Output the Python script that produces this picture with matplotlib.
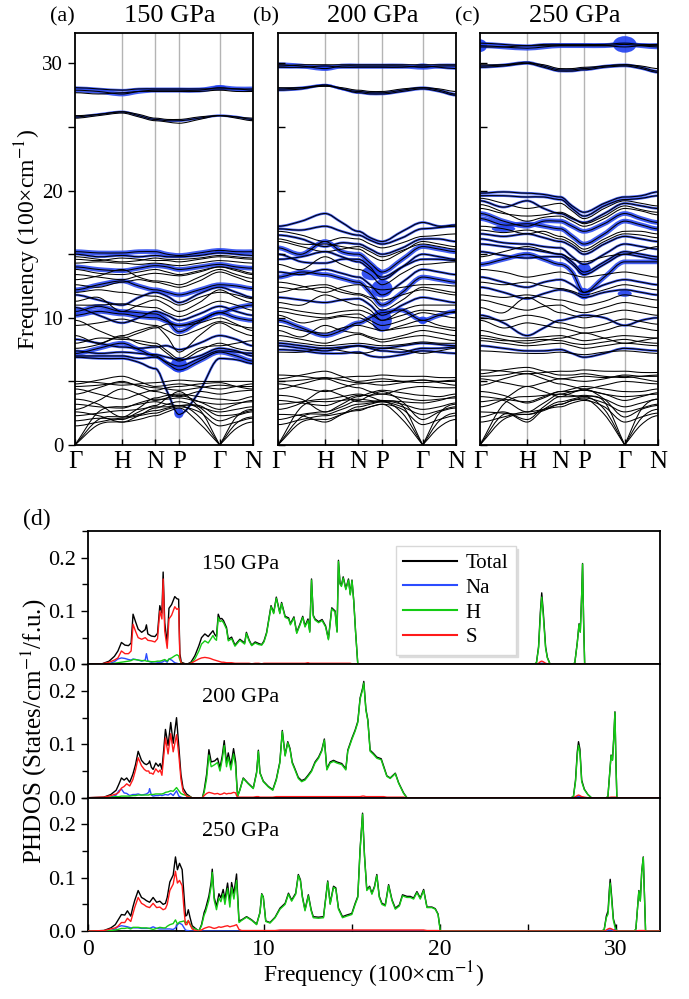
import numpy as np
import matplotlib
matplotlib.use("Agg")
import matplotlib.pyplot as plt
from matplotlib.path import Path
from matplotlib.patches import PathPatch, Ellipse
from matplotlib.ticker import MultipleLocator, FormatStrFormatter

plt.rcParams['font.family'] = ['Liberation Serif', 'DejaVu Serif']
plt.rcParams['mathtext.fontset'] = 'stix'

# ---------------- phonon dispersions ----------------
# high-symmetry path (bcc): Gamma-H-N-P-Gamma-N, cumulative k distance
K_NODES = [0.0, 1.0, 1.707, 2.207, 3.073, 3.780]
K_LABELS = ['Γ', 'H', 'N', 'P', 'Γ', 'N']
# each band: values at Γ, mid, H, mid, N, mid, P, mid, Γ, mid, N  (100 cm^-1)
BANDS_150 = [
    [0.0, 1.6, 1.8, 2.0, 2.3, 2.6, 2.9, 1.7, 0.0, 1.3, 1.8],
    [0.0, 2.0, 2.2, 2.4, 2.7, 2.9, 3.1, 2.2, 0.0, 1.7, 2.2],
    [0.0, 2.6, 3.0, 3.2, 3.4, 3.2, 3.1, 2.8, 0.0, 2.2, 2.8],
    [2.3, 2.5, 2.7, 2.8, 3.0, 3.0, 3.1, 3.1, 2.3, 2.4, 2.7],
    [2.6, 2.3, 1.8, 2.3, 2.9, 3.2, 3.4, 3.0, 2.6, 2.8, 3.0],
    [2.8, 3.5, 4.4, 4.0, 3.5, 3.7, 3.9, 3.4, 2.8, 3.2, 3.5],
    [3.6, 3.2, 2.2, 2.9, 3.7, 3.9, 4.0, 3.8, 3.6, 3.5, 3.8],
    [4.0, 4.5, 5.0, 4.6, 4.2, 4.0, 3.8, 4.2, 4.0, 4.2, 4.3],
    [4.4, 4.0, 3.6, 4.0, 4.3, 4.5, 4.6, 4.8, 4.9, 4.6, 4.4],
    [4.8, 5.1, 5.4, 5.0, 4.6, 4.7, 4.8, 4.6, 4.4, 4.6, 4.8],
    [5.0, 4.9, 4.7, 4.8, 4.9, 5.0, 5.1, 5.0, 5.0, 5.0, 5.0],
    [1.9, 2.1, 2.0, 2.6, 3.1, 3.7, 4.2, 3.0, 1.9, 2.3, 2.6],
    [1.5, 1.8, 2.1, 2.3, 2.5, 2.8, 3.0, 2.6, 1.5, 1.8, 2.1],
    [3.2, 3.0, 2.9, 3.3, 3.6, 3.6, 3.7, 3.4, 3.2, 3.3, 3.4],
    [4.6, 4.7, 4.9, 4.7, 4.5, 4.4, 4.3, 4.5, 4.7, 4.6, 4.6],
    [6.9, 6.8, 6.8, 6.5, 6.0, 4.2, 2.4, 4.2, 6.8, 6.7, 6.4],
    [7.2, 7.6, 8.0, 7.5, 7.0, 6.4, 5.9, 6.6, 7.3, 7.0, 6.6],
    [7.0, 7.0, 7.0, 6.8, 6.9, 6.5, 6.2, 6.8, 7.4, 7.3, 7.2],
    [7.4, 7.2, 7.3, 7.2, 7.1, 6.9, 6.7, 7.0, 7.6, 7.4, 7.0],
    [7.6, 7.9, 8.5, 8.0, 7.8, 7.2, 6.6, 7.4, 8.0, 7.6, 7.4],
    [8.0, 8.4, 8.3, 8.2, 8.0, 7.4, 6.8, 7.6, 7.8, 8.0, 8.2],
    [8.3, 8.0, 7.7, 7.6, 7.7, 7.8, 7.5, 8.0, 8.6, 8.3, 7.8],
    [8.6, 8.0, 8.6, 9.0, 9.3, 8.5, 7.3, 8.6, 9.6, 9.0, 8.6],
    [9.4, 9.6, 9.9, 9.6, 9.4, 9.0, 8.6, 9.1, 9.7, 9.4, 9.2],
    [9.8, 9.0, 8.4, 8.8, 9.2, 9.5, 9.4, 9.6, 10.0, 9.5, 9.0],
    [10.2, 10.5, 10.3, 10.1, 10.0, 9.7, 9.4, 9.8, 10.4, 10.8, 11.0],
    [10.5, 10.9, 10.5, 10.4, 10.3, 9.8, 8.9, 9.7, 10.4, 10.0, 9.8],
    [10.8, 10.2, 9.6, 10.0, 10.5, 10.2, 9.8, 10.3, 10.9, 10.5, 10.2],
    [11.0, 11.0, 11.1, 10.9, 10.8, 10.4, 10.1, 10.7, 11.3, 11.0, 10.6],
    [11.3, 11.6, 10.5, 11.0, 11.4, 11.0, 10.5, 11.2, 12.2, 11.6, 11.2],
    [11.8, 11.4, 11.0, 11.6, 12.0, 11.7, 11.2, 11.9, 12.4, 12.0, 11.6],
    [12.0, 12.2, 12.0, 11.8, 11.7, 11.4, 11.0, 11.6, 12.0, 11.8, 11.5],
    [12.2, 12.6, 12.9, 12.5, 12.2, 12.0, 11.8, 12.2, 12.6, 12.5, 12.3],
    [12.6, 12.4, 12.8, 13.0, 12.8, 12.6, 12.4, 12.9, 13.6, 13.2, 12.8],
    [13.0, 13.3, 13.8, 13.2, 12.9, 12.8, 12.6, 13.2, 13.8, 13.4, 13.1],
    [13.4, 13.2, 13.0, 13.3, 13.5, 13.4, 13.3, 13.6, 14.0, 13.8, 13.5],
    [13.8, 13.5, 13.4, 13.6, 13.8, 13.6, 13.4, 13.7, 14.0, 13.7, 13.4],
    [14.0, 13.8, 13.7, 13.9, 14.1, 14.0, 13.8, 14.0, 14.2, 14.0, 13.9],
    [14.3, 14.4, 14.3, 14.2, 14.3, 14.2, 14.1, 14.3, 14.5, 14.4, 14.3],
    [14.6, 14.5, 14.7, 14.6, 14.5, 14.5, 14.4, 14.6, 14.8, 14.7, 14.6],
    [14.8, 14.6, 14.4, 14.5, 14.7, 14.6, 14.6, 14.7, 14.9, 14.8, 14.7],
    [15.0, 14.8, 14.9, 14.8, 14.9, 14.8, 14.8, 14.9, 15.1, 15.0, 14.9],
    [15.2, 15.1, 15.1, 15.2, 15.2, 15.0, 14.9, 15.1, 15.3, 15.2, 15.2],
    [27.9, 27.8, 27.6, 27.8, 27.9, 27.9, 27.9, 27.9, 28.1, 28.0, 28.0],
    [28.1, 28.0, 27.9, 28.0, 28.0, 28.0, 28.0, 28.0, 28.0, 28.0, 27.9],
    [27.7, 27.6, 27.7, 27.8, 27.8, 27.8, 27.8, 27.8, 27.9, 27.8, 27.8],
    [25.8, 26.0, 26.2, 25.9, 25.6, 25.5, 25.5, 25.7, 25.9, 25.8, 25.6],
    [25.7, 25.9, 26.1, 25.8, 25.5, 25.4, 25.3, 25.6, 25.9, 25.7, 25.5],
    [25.9, 26.0, 26.2, 26.0, 25.7, 25.6, 25.6, 25.8, 25.9, 25.8, 25.7],
]
# H projection weight per band (0 none, 1 thin, 2 thick)
FAT_150 = [0] * 15 + [1, 2, 1, 1, 0, 0, 1, 0, 0, 0, 2, 2, 1, 0, 0, 1, 0, 2, 0, 0, 0, 0, 2, 0, 0, 0, 1, 2] \
    + [2, 1, 0, 1, 0, 0]

BANDS_200 = [
    [0.0, 1.8, 2.0, 2.4, 2.8, 3.0, 3.2, 2.0, 0.0, 1.4, 2.0],
    [0.0, 2.2, 2.4, 2.8, 3.2, 3.3, 3.4, 2.5, 0.0, 1.9, 2.5],
    [0.0, 3.0, 3.4, 3.5, 3.6, 3.5, 3.4, 3.1, 0.0, 2.5, 3.2],
    [2.4, 2.3, 1.8, 2.4, 3.0, 3.2, 3.4, 3.0, 2.4, 2.7, 3.0],
    [2.8, 3.3, 4.3, 3.9, 3.4, 3.4, 3.5, 3.2, 2.8, 3.0, 3.3],
    [3.2, 3.4, 3.6, 3.8, 4.0, 3.8, 3.5, 3.4, 3.3, 3.5, 3.8],
    [3.9, 3.6, 2.6, 3.2, 3.8, 4.1, 4.3, 4.1, 3.9, 3.8, 4.0],
    [4.4, 4.8, 5.2, 4.8, 4.5, 4.2, 4.0, 4.4, 4.6, 4.5, 4.5],
    [4.8, 4.5, 4.2, 4.5, 4.8, 4.9, 5.0, 5.0, 5.1, 4.9, 4.7],
    [5.2, 5.5, 5.8, 5.4, 5.0, 5.1, 5.2, 5.0, 4.9, 5.0, 5.1],
    [5.5, 5.4, 5.2, 5.3, 5.4, 5.4, 5.5, 5.4, 5.4, 5.3, 5.3],
    [2.0, 2.4, 2.6, 3.0, 3.5, 3.9, 4.2, 3.4, 2.0, 2.6, 2.9],
    [1.6, 2.0, 2.3, 2.5, 2.7, 3.0, 3.2, 2.8, 1.6, 2.0, 2.3],
    [3.5, 3.3, 3.1, 3.5, 3.9, 3.9, 4.0, 3.7, 3.5, 3.6, 3.7],
    [5.0, 5.1, 5.3, 5.1, 4.9, 4.8, 4.7, 4.9, 5.1, 5.0, 5.0],
    [17.2, 17.6, 18.2, 17.5, 16.8, 16.3, 16.0, 16.8, 17.5, 17.2, 17.3],
    [17.0, 16.9, 17.2, 16.8, 16.5, 16.1, 15.8, 16.3, 17.0, 17.1, 17.2],
    [16.8, 16.5, 16.0, 16.3, 16.2, 15.8, 15.5, 15.9, 16.4, 16.5, 16.6],
    [16.5, 16.2, 15.6, 15.9, 15.8, 15.4, 15.0, 15.5, 16.2, 16.2, 16.0],
    [16.2, 15.8, 15.8, 15.6, 15.4, 14.9, 14.5, 15.2, 16.0, 15.8, 15.6],
    [16.0, 15.6, 15.2, 15.4, 15.6, 15.2, 14.8, 15.3, 15.8, 15.6, 15.4],
    [15.5, 15.0, 16.0, 15.2, 15.0, 14.3, 13.6, 14.6, 15.6, 15.4, 15.2],
    [15.0, 14.4, 14.3, 14.6, 14.6, 14.0, 13.0, 14.0, 15.0, 14.8, 14.6],
    [14.6, 14.8, 15.2, 14.8, 14.4, 13.8, 13.2, 14.0, 14.6, 14.6, 14.5],
    [14.2, 13.8, 14.8, 14.2, 13.8, 13.4, 12.6, 13.5, 14.2, 14.3, 14.4],
    [13.6, 13.4, 13.8, 13.5, 13.2, 12.6, 11.8, 12.8, 13.8, 13.6, 13.4],
    [13.2, 13.6, 13.4, 13.1, 12.8, 12.0, 11.0, 12.0, 13.2, 13.0, 12.8],
    [12.8, 12.5, 12.0, 12.4, 12.6, 12.4, 12.2, 12.4, 12.6, 12.6, 12.5],
    [12.4, 12.2, 12.4, 12.0, 11.8, 11.4, 10.6, 11.4, 12.4, 12.2, 12.0],
    [12.0, 12.4, 12.6, 12.2, 11.9, 11.6, 11.4, 11.8, 12.2, 12.0, 11.8],
    [11.6, 11.4, 11.2, 11.4, 11.5, 11.0, 10.2, 11.0, 11.6, 11.4, 11.2],
    [11.2, 11.0, 11.8, 11.4, 11.0, 10.6, 9.8, 10.6, 11.0, 11.0, 11.0],
    [10.8, 10.5, 10.3, 10.5, 10.6, 10.3, 9.8, 10.2, 10.6, 10.5, 10.4],
    [10.5, 10.2, 10.0, 10.2, 10.3, 9.8, 9.4, 9.8, 10.4, 10.2, 10.0],
    [9.8, 9.2, 8.6, 9.0, 9.6, 10.0, 10.4, 10.6, 9.8, 10.2, 10.5],
    [10.2, 9.6, 9.9, 10.1, 10.0, 9.6, 9.0, 9.4, 9.8, 9.4, 9.2],
    [9.4, 9.0, 8.8, 9.2, 9.4, 9.2, 9.0, 9.2, 9.4, 9.2, 9.0],
    [9.0, 8.5, 9.4, 9.0, 8.8, 8.5, 8.3, 8.6, 9.0, 8.8, 8.6],
    [8.6, 8.3, 8.0, 8.4, 8.7, 8.4, 8.1, 8.4, 8.6, 8.4, 8.2],
    [8.2, 8.0, 7.8, 7.9, 8.0, 7.9, 7.8, 7.9, 8.1, 8.0, 8.0],
    [8.0, 7.8, 7.6, 7.7, 7.8, 7.7, 7.6, 7.8, 8.0, 7.9, 7.8],
    [7.8, 7.6, 7.4, 7.6, 7.8, 7.6, 7.4, 7.3, 7.6, 7.6, 7.7],
    [7.5, 7.4, 7.2, 7.2, 7.3, 7.0, 6.9, 7.1, 7.4, 7.3, 7.2],
    [7.3, 7.3, 7.6, 7.4, 7.2, 7.3, 7.6, 7.5, 7.2, 7.4, 7.6],
    [29.9, 29.8, 29.6, 29.8, 29.8, 29.8, 29.8, 29.8, 29.7, 29.8, 29.8],
    [29.7, 29.7, 29.8, 29.7, 29.7, 29.7, 29.7, 29.7, 29.8, 29.7, 29.6],
    [29.8, 29.9, 29.9, 29.9, 29.9, 29.9, 29.9, 29.9, 29.9, 29.9, 29.9],
    [28.0, 28.1, 28.3, 28.0, 27.8, 27.7, 27.7, 27.9, 28.1, 27.9, 27.6],
    [27.9, 28.0, 28.3, 28.0, 27.7, 27.6, 27.6, 27.8, 28.0, 27.8, 27.5],
    [28.1, 28.1, 28.2, 28.1, 27.9, 27.8, 27.8, 28.0, 28.1, 28.0, 27.8],
]
FAT_200 = [0] * 15 + [1, 1, 0, 1, 0, 0, 2, 1, 1, 0, 1, 2, 0, 0, 0, 1, 0, 0, 0, 2, 0, 0, 0, 0, 0, 1, 1, 1, 0] \
    + [2, 1, 0, 1, 1, 0]

BANDS_250 = [
    [0.0, 2.0, 2.4, 2.8, 3.2, 3.5, 3.6, 2.4, 0.0, 1.6, 2.3],
    [0.0, 2.4, 1.8, 2.8, 3.4, 3.6, 3.8, 2.8, 0.0, 2.1, 2.8],
    [0.0, 3.2, 3.8, 3.9, 4.0, 3.9, 3.8, 3.4, 0.0, 2.8, 3.6],
    [2.6, 2.5, 2.4, 2.7, 3.2, 3.5, 3.7, 3.3, 2.6, 2.9, 3.2],
    [3.0, 3.6, 4.6, 4.2, 3.8, 3.8, 3.9, 3.6, 3.0, 3.3, 3.6],
    [3.4, 3.5, 2.6, 3.3, 4.0, 4.2, 4.3, 4.0, 3.5, 3.8, 4.1],
    [4.2, 3.9, 3.3, 3.7, 4.2, 4.4, 4.6, 4.4, 4.2, 4.2, 4.4],
    [4.7, 5.2, 5.6, 5.2, 4.8, 4.6, 4.4, 4.7, 5.0, 4.9, 4.8],
    [5.2, 4.9, 4.6, 4.9, 5.2, 5.3, 5.4, 5.3, 5.4, 5.2, 5.0],
    [5.6, 5.9, 6.1, 5.8, 5.5, 5.5, 5.6, 5.4, 5.3, 5.4, 5.5],
    [5.9, 5.8, 5.6, 5.7, 5.8, 5.8, 5.9, 5.8, 5.8, 5.7, 5.7],
    [2.2, 2.6, 2.0, 3.0, 3.8, 4.1, 4.4, 3.6, 2.2, 2.8, 3.1],
    [1.8, 2.2, 2.6, 2.8, 3.0, 3.3, 3.5, 3.0, 1.8, 2.2, 2.5],
    [3.8, 3.6, 3.4, 3.8, 4.2, 4.2, 4.3, 4.0, 3.8, 3.9, 4.0],
    [5.4, 5.5, 5.8, 5.5, 5.2, 5.1, 5.0, 5.2, 5.5, 5.4, 5.4],
    [19.8, 19.9, 19.8, 19.7, 19.5, 18.8, 18.3, 19.0, 19.5, 19.6, 19.9],
    [19.6, 19.6, 19.5, 19.5, 19.3, 18.6, 18.0, 18.8, 19.3, 19.4, 19.6],
    [19.4, 19.0, 18.6, 18.8, 19.0, 18.4, 17.8, 18.6, 19.2, 19.0, 18.8],
    [19.2, 18.7, 19.2, 18.6, 18.2, 17.8, 17.5, 18.2, 19.0, 18.8, 18.6],
    [18.9, 18.3, 17.6, 17.9, 18.0, 17.6, 17.2, 17.8, 18.6, 18.4, 18.1],
    [18.6, 18.2, 18.0, 18.1, 18.3, 17.9, 17.4, 18.0, 18.8, 18.5, 18.3],
    [18.2, 17.6, 17.2, 17.6, 17.6, 17.2, 16.8, 17.4, 18.2, 17.8, 17.5],
    [17.8, 17.3, 17.4, 17.2, 17.0, 16.4, 15.8, 16.6, 17.6, 17.3, 17.0],
    [17.2, 17.0, 16.6, 16.8, 16.4, 16.0, 15.4, 16.2, 16.8, 16.8, 16.6],
    [16.9, 16.7, 16.9, 16.6, 16.2, 15.8, 15.2, 16.0, 16.6, 16.5, 16.3],
    [16.6, 16.4, 16.6, 16.3, 16.0, 15.6, 15.0, 15.8, 16.4, 16.2, 16.0],
    [16.2, 15.9, 15.8, 15.6, 15.5, 14.8, 14.2, 15.0, 15.8, 15.6, 15.4],
    [15.8, 15.6, 15.4, 15.2, 15.0, 14.4, 13.6, 14.4, 15.2, 15.0, 14.8],
    [15.2, 14.9, 14.7, 14.8, 14.8, 14.2, 13.4, 14.2, 15.0, 14.8, 14.6],
    [14.8, 15.2, 15.6, 15.3, 15.0, 14.6, 14.4, 14.8, 15.0, 15.3, 15.6],
    [14.2, 14.6, 15.0, 14.6, 14.2, 13.6, 12.0, 13.2, 14.4, 14.4, 14.4],
    [13.8, 13.6, 13.2, 13.4, 13.6, 13.4, 13.2, 13.4, 13.6, 13.4, 13.2],
    [13.2, 12.8, 12.4, 12.8, 13.0, 12.6, 12.0, 12.6, 13.0, 12.8, 12.6],
    [12.8, 12.6, 12.8, 12.5, 12.3, 12.1, 11.8, 12.2, 12.6, 12.4, 12.2],
    [12.4, 12.0, 11.5, 11.9, 12.2, 12.0, 11.6, 12.0, 12.2, 12.0, 11.8],
    [11.8, 11.6, 11.8, 11.6, 11.4, 11.2, 11.0, 11.3, 11.8, 11.6, 11.4],
    [11.4, 11.0, 10.6, 10.9, 11.0, 10.6, 10.4, 10.8, 11.2, 11.0, 10.8],
    [10.8, 10.4, 11.6, 11.0, 10.4, 10.2, 10.0, 10.3, 10.6, 10.4, 10.2],
    [10.2, 9.6, 8.6, 9.2, 9.8, 10.0, 10.2, 10.0, 9.4, 9.8, 10.0],
    [10.0, 9.8, 10.2, 10.0, 9.6, 9.4, 9.2, 9.5, 9.9, 9.7, 9.5],
    [9.8, 9.2, 9.6, 9.4, 9.2, 9.0, 8.8, 9.0, 9.4, 9.2, 9.0],
    [9.0, 8.6, 8.4, 8.5, 8.6, 8.4, 8.2, 8.4, 8.6, 8.5, 8.4],
    [8.6, 8.3, 8.0, 8.2, 8.4, 8.6, 8.8, 8.4, 8.0, 8.2, 8.4],
    [8.4, 8.2, 8.2, 8.3, 8.2, 8.0, 7.9, 8.1, 8.3, 8.1, 8.0],
    [8.2, 8.0, 7.8, 7.9, 8.0, 7.8, 7.6, 7.8, 8.0, 7.9, 7.8],
    [7.8, 7.6, 7.4, 7.4, 7.5, 7.2, 6.9, 7.2, 7.6, 7.5, 7.4],
    [7.4, 7.3, 7.2, 7.2, 7.3, 7.2, 7.1, 7.3, 7.4, 7.3, 7.2],
    [31.4, 31.3, 31.2, 31.3, 31.4, 31.4, 31.4, 31.4, 31.5, 31.4, 31.3],
    [31.6, 31.5, 31.4, 31.5, 31.5, 31.5, 31.5, 31.5, 31.6, 31.5, 31.5],
    [31.3, 31.3, 31.4, 31.4, 31.4, 31.4, 31.4, 31.4, 31.3, 31.4, 31.4],
    [29.8, 29.9, 30.1, 29.8, 29.5, 29.5, 29.6, 29.8, 29.9, 29.7, 29.4],
    [29.7, 29.8, 30.0, 29.7, 29.4, 29.4, 29.5, 29.7, 29.8, 29.6, 29.3],
    [29.9, 29.9, 30.0, 29.9, 29.6, 29.6, 29.7, 29.8, 29.9, 29.8, 29.6],
]
FAT_250 = [0] * 15 + [1, 1, 0, 1, 0, 0, 2, 2, 0, 0, 1, 1, 1, 1, 0, 2, 0, 1, 0, 1, 0, 0, 0, 1, 0, 0, 0, 0, 0,
                      0, 1, 0] + [2, 1, 0, 1, 1, 0]

# large H-weight spots: k position, frequency, width (k), height (freq)
BLOB_K_150 = [2.207, 2.207, 3.073, 3.073]
BLOB_F_150 = [2.5, 6.3, 28.1, 15.2]
BLOB_W_150 = [0.2, 0.35, 0.3, 0.2]
BLOB_H_150 = [0.8, 1.2, 0.4, 0.35]
BLOB_K_200 = [2.207, 2.207, 2.0, 3.073, 1.0, 3.073]
BLOB_F_200 = [9.8, 12.3, 13.5, 9.8, 29.7, 29.8]
BLOB_W_200 = [0.42, 0.45, 0.45, 0.2, 0.3, 0.35]
BLOB_H_200 = [1.8, 1.4, 1.1, 0.6, 0.4, 0.4]
BLOB_K_250 = [3.073, 0.0, 2.207, 2.207, 3.073, 0.5]
BLOB_F_250 = [31.5, 31.4, 11.9, 13.8, 11.9, 17.0]
BLOB_W_250 = [0.5, 0.3, 0.25, 0.3, 0.3, 0.5]
BLOB_H_250 = [1.3, 1.0, 0.9, 1.0, 0.5, 0.5]

# ---------------- phonon DOS (states/cm^-1/f.u.) ----------------
F_LO_150 = [0.0, 0.8, 1.2, 1.5, 1.7, 1.9, 2.1, 2.3, 2.45, 2.56, 2.7, 2.85, 3.05, 3.25, 3.32, 3.4,
            3.6, 3.8, 3.95, 4.08, 4.2, 4.27, 4.36, 4.5, 4.6, 4.75, 4.93, 5.05, 5.15, 5.22, 5.3, 5.6]
S_LO_150 = [0, 0.001, 0.004, 0.008, 0.012, 0.025, 0.020, 0.020, 0.025, 0.075, 0.062, 0.050, 0.047, 0.050,
            0.048, 0.045, 0.044, 0.042, 0.048, 0.100, 0.085, 0.160, 0.062, 0.030, 0.085, 0.092, 0.108,
            0.103, 0.105, 0.012, 0.002, 0]
NA_LO_150 = [0, 0, 0.001, 0.005, 0.010, 0.012, 0.011, 0.009, 0.008, 0.010, 0.009, 0.008, 0.006, 0.008,
             0.020, 0.006, 0.004, 0.005, 0.004, 0.004, 0.004, 0.005, 0.007, 0.004, 0.010, 0.008, 0.003,
             0.002, 0.001, 0, 0, 0]
H_LO_150 = [0, 0, 0.001, 0.002, 0.003, 0.004, 0.005, 0.006, 0.007, 0.009, 0.009, 0.008, 0.007, 0.007,
            0.006, 0.006, 0.005, 0.005, 0.006, 0.006, 0.007, 0.008, 0.009, 0.006, 0.010, 0.012, 0.016,
            0.018, 0.016, 0.008, 0.002, 0]
F_HI_150 = [5.6, 5.85, 6.07, 6.3, 6.45, 6.64, 6.83, 6.95, 7.1, 7.2, 7.3, 7.4, 7.5, 7.6, 7.7, 7.87,
            7.97, 8.16, 8.35, 8.5, 8.63, 8.9, 9.0, 9.15, 9.3, 9.5, 9.7, 9.87, 10.0, 10.15, 10.4, 10.55,
            10.7, 10.9, 11.0, 11.2, 11.4, 11.5, 11.7, 11.86, 12.05, 12.2, 12.33, 12.5, 12.6, 12.7,
            12.8, 12.9, 13.1, 13.3, 13.5, 13.66, 13.85, 14.04, 14.15, 14.23, 14.32, 14.4, 14.5,
            14.65, 14.8, 14.9, 15.0, 15.1, 15.2, 15.33, 15.5]
H_HI_150 = [0, 0.002, 0.010, 0.025, 0.038, 0.044, 0.040, 0.046, 0.054, 0.048, 0.045, 0.088, 0.080,
            0.082, 0.078, 0.066, 0.044, 0.048, 0.034, 0.040, 0.045, 0.038, 0.058, 0.044, 0.035, 0.040,
            0.037, 0.036, 0.042, 0.058, 0.108, 0.095, 0.124, 0.095, 0.114, 0.088, 0.085, 0.074, 0.087,
            0.058, 0.074, 0.088, 0.070, 0.082, 0.060, 0.158, 0.090, 0.083, 0.078, 0.082, 0.070, 0.046,
            0.104, 0.098, 0.060, 0.193, 0.150, 0.146, 0.162, 0.140, 0.158, 0.130, 0.157, 0.118, 0.062,
            0.0, 0]
S_HI_150 = [0, 0.002, 0.006, 0.010, 0.012, 0.013, 0.012, 0.011, 0.009, 0.008, 0.007, 0.006, 0.005,
            0.004, 0.004, 0.003, 0.003, 0.003, 0.002, 0.002, 0.002, 0.002, 0.002, 0.002, 0.001, 0.002,
            0.002, 0.001, 0.002, 0.002, 0.002, 0.002, 0.002, 0.002, 0.002, 0.002, 0.002, 0.002, 0.002,
            0.002, 0.002, 0.002, 0.002, 0.003, 0.002, 0.002, 0.002, 0.002, 0.002, 0.002, 0.002, 0.002,
            0.002, 0.002, 0.002, 0.002, 0.002, 0.002, 0.002, 0.002, 0.002, 0.002, 0.001, 0.001, 0.001,
            0, 0]
F_PK_150 = [25.35, 25.48, 25.6, 25.7, 25.78, 25.86, 26.0, 26.1, 26.26, 27.55, 27.66, 27.8, 27.9,
            27.97, 28.05, 28.1, 28.16, 28.22, 32.5]
H_PK_150 = [0, 0.003, 0.030, 0.090, 0.126, 0.095, 0.030, 0.012, 0, 0, 0.003, 0.040, 0.075, 0.060,
            0.130, 0.188, 0.080, 0, 0]
S_PK_150 = [0, 0, 0.002, 0.005, 0.006, 0.005, 0.002, 0.001, 0, 0, 0, 0.001, 0.001, 0.001, 0.001,
            0.001, 0.001, 0, 0]
NA_PK_150 = [0, 0, 0.001, 0.002, 0.002, 0.002, 0.001, 0, 0, 0, 0, 0, 0, 0, 0, 0, 0, 0, 0]

F_LO_200 = [0.0, 0.9, 1.3, 1.6, 1.75, 1.9, 2.05, 2.2, 2.37, 2.55, 2.7, 2.85, 3.04, 3.2, 3.32, 3.45,
            3.5, 3.6, 3.7, 3.85, 4.0, 4.1, 4.2, 4.3, 4.4, 4.55, 4.7, 4.84, 5.03, 5.16, 5.28, 5.4, 5.6, 5.9]
S_LO_200 = [0, 0.001, 0.004, 0.007, 0.010, 0.018, 0.021, 0.026, 0.022, 0.034, 0.052, 0.075, 0.060,
            0.053, 0.050, 0.050, 0.046, 0.046, 0.044, 0.054, 0.048, 0.052, 0.042, 0.076, 0.112, 0.082,
            0.120, 0.086, 0.118, 0.080, 0.035, 0.012, 0.003, 0]
NA_LO_200 = [0, 0, 0.001, 0.005, 0.013, 0.016, 0.009, 0.008, 0.004, 0.006, 0.006, 0.007, 0.005,
             0.006, 0.007, 0.010, 0.017, 0.005, 0.003, 0.004, 0.004, 0.005, 0.004, 0.005, 0.006, 0.005,
             0.008, 0.004, 0.013, 0.003, 0.001, 0, 0, 0]
H_LO_200 = [0, 0, 0.001, 0.002, 0.002, 0.003, 0.003, 0.003, 0.003, 0.004, 0.004, 0.005, 0.005, 0.005,
            0.005, 0.005, 0.006, 0.006, 0.006, 0.007, 0.007, 0.007, 0.007, 0.008, 0.010, 0.011, 0.013,
            0.012, 0.019, 0.013, 0.008, 0.006, 0.004, 0]
F_HI_200 = [6.5, 6.6, 6.74, 6.87, 7.0, 7.1, 7.2, 7.36, 7.5, 7.63, 7.74, 7.87, 7.97, 8.12, 8.27, 8.39,
            8.44, 8.5, 8.63, 8.82, 9.1, 9.39, 9.58, 9.68, 9.77, 9.96, 10.25, 10.5, 10.7, 10.9, 11.04,
            11.2, 11.35, 11.48, 11.6, 11.76, 11.95, 12.14, 12.33, 12.5, 12.7, 12.9, 13.1, 13.28, 13.43,
            13.57, 13.76, 13.95, 14.14, 14.42, 14.65, 14.76, 14.99, 15.18, 15.33, 15.46, 15.6, 15.67,
            15.79, 15.9, 16.03, 16.22, 16.41, 16.66, 16.8, 16.98, 17.17, 17.46, 17.65, 17.93, 18.12]
H_HI_200 = [0, 0.010, 0.036, 0.080, 0.058, 0.060, 0.062, 0.066, 0.050, 0.072, 0.098, 0.058, 0.076,
            0.052, 0.082, 0.058, 0.030, 0.002, 0.014, 0.036, 0.026, 0.017, 0.046, 0.087, 0.046, 0.030,
            0.020, 0.014, 0.033, 0.065, 0.124, 0.078, 0.103, 0.090, 0.065, 0.052, 0.036, 0.030, 0.033,
            0.040, 0.049, 0.065, 0.074, 0.087, 0.108, 0.052, 0.065, 0.068, 0.065, 0.062, 0.052, 0.087,
            0.109, 0.125, 0.141, 0.185, 0.202, 0.215, 0.164, 0.144, 0.087, 0.081, 0.074, 0.071, 0.057,
            0.040, 0.036, 0.045, 0.027, 0.008, 0]
S_HI_200 = [0, 0.004, 0.008, 0.010, 0.009, 0.008, 0.007, 0.008, 0.006, 0.007, 0.009, 0.007, 0.008,
            0.008, 0.010, 0.009, 0.004, 0.001, 0.001, 0.001, 0.001, 0.001, 0.002, 0.002, 0.001, 0.001,
            0.001, 0.001, 0.002, 0.002, 0.002, 0.002, 0.002, 0.002, 0.002, 0.002, 0.002, 0.002, 0.002,
            0.002, 0.002, 0.002, 0.002, 0.002, 0.002, 0.002, 0.002, 0.002, 0.002, 0.002, 0.002, 0.002,
            0.002, 0.002, 0.002, 0.002, 0.003, 0.003, 0.002, 0.002, 0.002, 0.002, 0.002, 0.002, 0.002,
            0.001, 0.001, 0.001, 0.001, 0.001, 0]
F_PK_200 = [27.45, 27.58, 27.7, 27.8, 27.87, 27.95, 28.05, 28.2, 28.4, 28.6, 29.45, 29.54, 29.72,
            29.8, 29.87, 29.94, 30.0, 30.05, 32.5]
H_PK_200 = [0, 0.002, 0.030, 0.080, 0.098, 0.085, 0.030, 0.015, 0.006, 0, 0, 0.002, 0.079, 0.070,
            0.110, 0.160, 0.060, 0, 0]
S_PK_200 = [0, 0, 0.002, 0.004, 0.005, 0.004, 0.002, 0.001, 0, 0, 0, 0, 0.001, 0.001, 0.001, 0.001,
            0.001, 0, 0]
NA_PK_200 = [0, 0, 0.001, 0.002, 0.002, 0.002, 0.001, 0, 0, 0, 0, 0, 0, 0, 0, 0, 0, 0, 0]

F_LO_250 = [0.0, 0.9, 1.3, 1.55, 1.7, 1.9, 2.09, 2.24, 2.43, 2.55, 2.66, 2.85, 3.04, 3.2, 3.32, 3.5,
            3.7, 3.9, 4.08, 4.27, 4.4, 4.5, 4.65, 4.84, 4.97, 5.08, 5.2, 5.35, 5.46, 5.54, 5.62, 5.7,
            5.8, 5.92, 6.1, 6.26]
S_LO_250 = [0, 0.001, 0.004, 0.006, 0.009, 0.016, 0.016, 0.024, 0.018, 0.032, 0.045, 0.063, 0.052,
            0.049, 0.046, 0.044, 0.052, 0.044, 0.045, 0.040, 0.042, 0.050, 0.076, 0.088, 0.112, 0.090,
            0.095, 0.085, 0.038, 0.012, 0.012, 0.020, 0.012, 0.004, 0.001, 0]
NA_LO_250 = [0, 0, 0.001, 0.004, 0.008, 0.010, 0.009, 0.008, 0.006, 0.006, 0.006, 0.006, 0.005,
             0.005, 0.005, 0.005, 0.008, 0.005, 0.004, 0.004, 0.004, 0.004, 0.004, 0.003, 0.006, 0.012,
             0.015, 0.012, 0.006, 0.002, 0.001, 0.001, 0, 0, 0, 0]
H_LO_250 = [0, 0, 0.001, 0.002, 0.003, 0.005, 0.005, 0.006, 0.004, 0.007, 0.007, 0.007, 0.006, 0.006,
            0.006, 0.005, 0.003, 0.005, 0.007, 0.006, 0.006, 0.009, 0.012, 0.014, 0.021, 0.013, 0.017,
            0.018, 0.019, 0.014, 0.017, 0.019, 0.013, 0.006, 0.004, 0.001]
F_HI_250 = [6.3, 6.45, 6.6, 6.68, 6.87, 7.0, 7.06, 7.17, 7.3, 7.44, 7.55, 7.68, 7.78, 7.93, 8.06, 8.16,
            8.29, 8.44, 8.58, 8.73, 9.01, 9.3, 9.58, 9.77, 9.87, 9.96, 10.1, 10.34, 10.63, 10.91, 11.2,
            11.39, 11.57, 11.8, 11.95, 12.07, 12.18, 12.33, 12.52, 12.68, 12.8, 13.09, 13.38, 13.62,
            13.76, 13.95, 14.08, 14.23, 14.46, 14.7, 14.99, 15.18, 15.33, 15.46, 15.6, 15.71, 15.84,
            16.0, 16.13, 16.28, 16.41, 16.55, 16.7, 16.89, 17.08, 17.27, 17.46, 17.69, 17.87, 18.12,
            18.31, 18.5, 18.69, 18.88, 19.07, 19.26, 19.54, 19.73, 19.89, 20.02]
H_HI_250 = [0, 0.010, 0.030, 0.036, 0.058, 0.085, 0.110, 0.058, 0.040, 0.062, 0.055, 0.070, 0.050,
            0.080, 0.045, 0.082, 0.060, 0.095, 0.016, 0.020, 0.026, 0.020, 0.012, 0.034, 0.069, 0.063,
            0.018, 0.015, 0.025, 0.041, 0.050, 0.069, 0.056, 0.069, 0.104, 0.094, 0.063, 0.038, 0.066,
            0.038, 0.025, 0.024, 0.025, 0.092, 0.050, 0.082, 0.079, 0.041, 0.025, 0.028, 0.031, 0.050,
            0.063, 0.152, 0.219, 0.140, 0.076, 0.082, 0.069, 0.082, 0.104, 0.063, 0.050, 0.047, 0.085,
            0.057, 0.041, 0.047, 0.066, 0.063, 0.063, 0.060, 0.072, 0.060, 0.076, 0.044, 0.044, 0.041,
            0.031, 0]
S_HI_250 = [0, 0.002, 0.005, 0.006, 0.008, 0.007, 0.006, 0.005, 0.006, 0.008, 0.007, 0.008, 0.009,
            0.010, 0.008, 0.009, 0.010, 0.012, 0.003, 0.001, 0.001, 0.001, 0.001, 0.001, 0.001, 0.001,
            0.001, 0.001, 0.001, 0.002, 0.002, 0.002, 0.002, 0.002, 0.002, 0.002, 0.002, 0.002, 0.002,
            0.002, 0.002, 0.002, 0.002, 0.002, 0.002, 0.002, 0.002, 0.002, 0.002, 0.002, 0.002, 0.002,
            0.002, 0.002, 0.002, 0.002, 0.002, 0.002, 0.002, 0.002, 0.002, 0.002, 0.002, 0.002, 0.002,
            0.002, 0.002, 0.002, 0.002, 0.002, 0.002, 0.002, 0.002, 0.002, 0.002, 0.001, 0.001, 0.001,
            0.001, 0]
F_PK_250 = [29.2, 29.33, 29.45, 29.55, 29.62, 29.67, 29.75, 29.85, 29.95, 30.05, 31.05, 31.13, 31.3,
            31.38, 31.46, 31.55, 31.62, 31.68, 32.5]
H_PK_250 = [0, 0.003, 0.025, 0.032, 0.070, 0.090, 0.060, 0.020, 0.006, 0, 0, 0.004, 0.075, 0.056,
            0.110, 0.138, 0.060, 0, 0]
S_PK_250 = [0, 0, 0.002, 0.004, 0.005, 0.005, 0.004, 0.002, 0.001, 0, 0, 0, 0.001, 0.001, 0.001,
            0.001, 0.001, 0, 0]
NA_PK_250 = [0, 0, 0.001, 0.002, 0.002, 0.002, 0.002, 0.001, 0.004, 0, 0, 0, 0, 0, 0, 0, 0, 0, 0]

PRESSURES = ['150 GPa', '200 GPa', '250 GPa']
PANEL_TAGS = ['(a)', '(b)', '(c)']

BLUE_FAT = '#1f3ff0'
C_TOT, C_NA, C_H, C_S = '#000000', '#2b4cff', '#14cc14', '#ff1a1a'

# sample positions along the path: node, midpoint, node, ...
K_SAMPLE = []
for i in range(len(K_NODES) - 1):
    K_SAMPLE += [K_NODES[i], 0.5 * (K_NODES[i] + K_NODES[i + 1])]
K_SAMPLE.append(K_NODES[-1])


def band_path(y):
    """Smooth bezier through the band values, flat at high-symmetry points."""
    x = K_SAMPLE

    def slope(i, j):
        if i % 2 == 1:
            return (y[i + 1] - y[i - 1]) / (x[i + 1] - x[i - 1])
        if y[i] == 0:   # acoustic branch leaves Gamma linearly
            return (y[j] - y[i]) / (x[j] - x[i])
        return 0.0

    verts = [(x[0], y[0])]
    codes = [Path.MOVETO]
    for i in range(len(y) - 1):
        dx = x[i + 1] - x[i]
        m0, m1 = slope(i, i + 1), slope(i + 1, i)
        verts += [(x[i] + dx / 3, y[i] + m0 * dx / 3),
                  (x[i + 1] - dx / 3, y[i + 1] - m1 * dx / 3),
                  (x[i + 1], y[i + 1])]
        codes += [Path.CURVE4] * 3
    return Path(verts, codes)


fig = plt.figure(figsize=(6.89, 9.99), dpi=100)

band_sets = [(BANDS_150, FAT_150, BLOB_K_150, BLOB_F_150, BLOB_W_150, BLOB_H_150),
             (BANDS_200, FAT_200, BLOB_K_200, BLOB_F_200, BLOB_W_200, BLOB_H_200),
             (BANDS_250, FAT_250, BLOB_K_250, BLOB_F_250, BLOB_W_250, BLOB_H_250)]
lefts = [75 / 689, 278 / 689, 480 / 689]
for n, (bands, fat, bk, bf, bw, bh) in enumerate(band_sets):
    ax = fig.add_axes([lefts[n], 0.5546, 178 / 689, 0.4124])
    for xv in K_NODES[1:-1]:
        ax.axvline(xv, color='#b4b4b4', lw=1.0, zorder=0)
    for y, w in zip(bands, fat):
        if w:
            ax.add_patch(PathPatch(band_path(y), fill=False, ec=BLUE_FAT,
                                   lw=1.8 if w == 1 else 3.4, alpha=0.85,
                                   capstyle='round', zorder=1))
    for k, f, w, h in zip(bk, bf, bw, bh):
        ax.add_patch(Ellipse((k, f), w, h, color=BLUE_FAT, alpha=0.9, lw=0, zorder=1))
    for y in bands:
        ax.add_patch(PathPatch(band_path(y), fill=False, ec='black', lw=0.75, zorder=2))
    ax.set_xlim(K_NODES[0], K_NODES[-1])
    ax.set_ylim(0, 32.4)
    ax.set_xticks(K_NODES)
    ax.set_xticklabels(K_LABELS, fontsize=18)
    ax.tick_params(axis='x', direction='in', length=4, width=1.0, pad=4)
    ax.yaxis.set_major_locator(MultipleLocator(10))
    ax.yaxis.set_minor_locator(MultipleLocator(5))
    if n == 0:
        ax.tick_params(axis='y', which='both', direction='out', labelsize=15, width=1.0, length=5)
    else:
        ax.tick_params(axis='y', which='both', direction='in', labelleft=False, length=5, width=1.0)
    for sp in ax.spines.values():
        sp.set_linewidth(1.3)
    ax.text(0.53, 1.04, PRESSURES[n], transform=ax.transAxes, ha='center', va='center', fontsize=19)
    ax.text(-0.07, 1.04, PANEL_TAGS[n], transform=ax.transAxes, ha='center', va='center', fontsize=16)

fig.text(28 / 689, 1 - 239 / 999, 'Frequency (100×cm$^{-1}$)', rotation=90,
         ha='center', va='center', fontsize=17)

# ---------------- PHDOS panels ----------------
dos_sets = [
    (F_LO_150, NA_LO_150, H_LO_150, S_LO_150, F_HI_150, H_HI_150, S_HI_150,
     F_PK_150, NA_PK_150, H_PK_150, S_PK_150),
    (F_LO_200, NA_LO_200, H_LO_200, S_LO_200, F_HI_200, H_HI_200, S_HI_200,
     F_PK_200, NA_PK_200, H_PK_200, S_PK_200),
    (F_LO_250, NA_LO_250, H_LO_250, S_LO_250, F_HI_250, H_HI_250, S_HI_250,
     F_PK_250, NA_PK_250, H_PK_250, S_PK_250),
]
bottoms = [0.335, 0.2015, 0.068]
dos_axes = []
for n, d in enumerate(dos_sets):
    f_lo, na_lo, h_lo, s_lo, f_hi, h_hi, s_hi, f_pk, na_pk, h_pk, s_pk = [np.asarray(v, float) for v in d]
    ax = fig.add_axes([88 / 689, bottoms[n], 572 / 689, 0.1335])
    dos_axes.append(ax)
    f_all = np.concatenate([f_lo, f_hi, f_pk])
    total = np.concatenate([na_lo + h_lo + s_lo, h_hi + s_hi, na_pk + h_pk + s_pk])
    ax.plot(f_all, total, color=C_TOT, lw=1.0, label='Total', zorder=2)
    ax.plot(np.concatenate([f_lo, f_pk]), np.concatenate([na_lo, na_pk]), color=C_NA, lw=1.0,
            label='Na', zorder=3)
    ax.plot(f_all, np.concatenate([h_lo, h_hi, h_pk]), color=C_H, lw=1.0, label='H', zorder=4)
    ax.plot(f_all, np.concatenate([s_lo, s_hi, s_pk]), color=C_S, lw=1.0, label='S', zorder=5)
    ax.set_xlim(0, 32.5)
    ax.set_ylim(0, 0.25)
    ax.yaxis.set_major_locator(MultipleLocator(0.1))
    ax.yaxis.set_minor_locator(MultipleLocator(0.05))
    ax.yaxis.set_major_formatter(FormatStrFormatter('%.1f'))
    ax.xaxis.set_major_locator(MultipleLocator(10))
    ax.xaxis.set_minor_locator(MultipleLocator(5))
    ax.tick_params(axis='y', which='both', direction='out', labelsize=16, width=1.0)
    ax.tick_params(axis='y', which='major', length=5)
    ax.tick_params(axis='y', which='minor', length=4)
    if n < 2:
        ax.tick_params(axis='x', which='both', bottom=False, labelbottom=False)
    else:
        ax.tick_params(axis='x', which='both', direction='in', labelsize=17, length=5, width=1.0, pad=6)
    for sp in ax.spines.values():
        sp.set_linewidth(1.3)
    ax.text(0.266, 0.75, PRESSURES[n], transform=ax.transAxes, ha='center', va='center', fontsize=16)

leg = dos_axes[0].legend(loc='upper left', bbox_to_anchor=(0.52, 0.965), fontsize=15,
                         handlelength=2.6, labelspacing=0.25, borderpad=0.35, handletextpad=0.4,
                         fancybox=False, shadow={'color': '#dcdcdc', 'alpha': 1.0}, framealpha=1.0)
leg.get_frame().set_edgecolor('#d8d8d8')
leg.get_frame().set_linewidth(1.0)
for ln in leg.get_lines():
    ln.set_linewidth(1.5)

dos_axes[0].text(-0.089, 1.083, '(d)', transform=dos_axes[0].transAxes, ha='center', va='center',
                 fontsize=17)
fig.text(34 / 689, 1 - 731 / 999, 'PHDOS (States/cm$^{-1}$/f.u.)', rotation=90,
         ha='center', va='center', fontsize=18)
fig.text(374 / 689, 1 - 975 / 999, 'Frequency (100×cm$^{-1}$)', ha='center', va='center', fontsize=17)

fig.savefig('out.png', dpi=100)
